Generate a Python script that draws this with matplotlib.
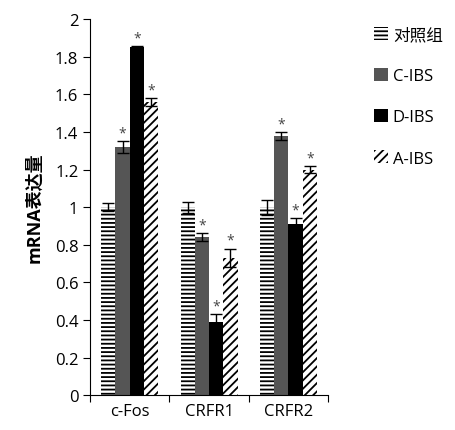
import numpy as np
import matplotlib.pyplot as plt
from matplotlib.patches import Patch

plt.rcParams['font.family'] = ['Open Sans', 'Noto Sans CJK SC', 'DejaVu Sans']
plt.rcParams['hatch.linewidth'] = 1.3

# datos
genes = ["c-Fos", "CRFR1", "CRFR2"]
grupos = ["对照组", "C-IBS", "D-IBS", "A-IBS"]
control = [1.00, 1.00, 1.00]
c_ibs = [1.32, 0.84, 1.38]
d_ibs = [1.85, 0.39, 0.91]
a_ibs = [1.56, 0.73, 1.20]
err_control = [0.02, 0.03, 0.04]
err_c = [0.03, 0.02, 0.02]
err_d = [0.01, 0.04, 0.03]
err_a = [0.02, 0.05, 0.02]

valores = [control, c_ibs, d_ibs, a_ibs]
errores = [err_control, err_c, err_d, err_a]
colores = ["white", "#555555", "black", "white"]
tramas = ["----", None, None, "////"]

fig = plt.figure(figsize=(4.55, 4.31), dpi=100)
ax = fig.add_axes([0.198, 0.081, 0.523, 0.872])

x = np.arange(len(genes))
w = 0.18
for i in range(4):
    pos = x + (i - 1.5) * w
    ax.bar(pos, valores[i], w, color=colores[i], hatch=tramas[i],
           edgecolor="black" if tramas[i] else colores[i], linewidth=0)
    ax.errorbar(pos, valores[i], yerr=errores[i], fmt="none", ecolor="black",
                capsize=4, elinewidth=1)
    if i > 0:
        for p, v, e in zip(pos, valores[i], errores[i]):
            ax.text(p, v + e + 0.003, "*", ha="center", va="bottom",
                    fontsize=10, color="#444444")

ax.set_xlim(-0.5, 2.5)
ax.set_ylim(0, 2)
ax.set_yticks(np.arange(0, 2.01, 0.2))
ax.set_yticklabels(["0", "0.2", "0.4", "0.6", "0.8", "1", "1.2", "1.4", "1.6", "1.8", "2"])
ax.set_xticks([-0.5, 0.5, 1.5, 2.5])
ax.set_xticklabels([])
ax.set_xticks(x, minor=True)
ax.set_xticklabels(genes, minor=True)
ax.tick_params(axis="x", which="minor", length=0, labelsize=12, pad=6)
ax.tick_params(axis="x", which="major", length=5)
ax.tick_params(axis="y", labelsize=12, length=5)
ax.spines["top"].set_visible(False)
ax.spines["right"].set_visible(False)
ax.set_ylabel("mRNA表达量", fontsize=13, fontweight="bold", labelpad=8)

handles = [Patch(facecolor=colores[i], hatch=tramas[i],
                 edgecolor="black" if tramas[i] else colores[i], linewidth=0)
           for i in range(4)]
fig.legend(handles, grupos, loc="upper left", bbox_to_anchor=(0.79, 0.97),
           frameon=False, fontsize=12, handlelength=0.8, handleheight=0.8,
           handletextpad=0.3, labelspacing=1.5)

plt.savefig("out.png", dpi=100)
